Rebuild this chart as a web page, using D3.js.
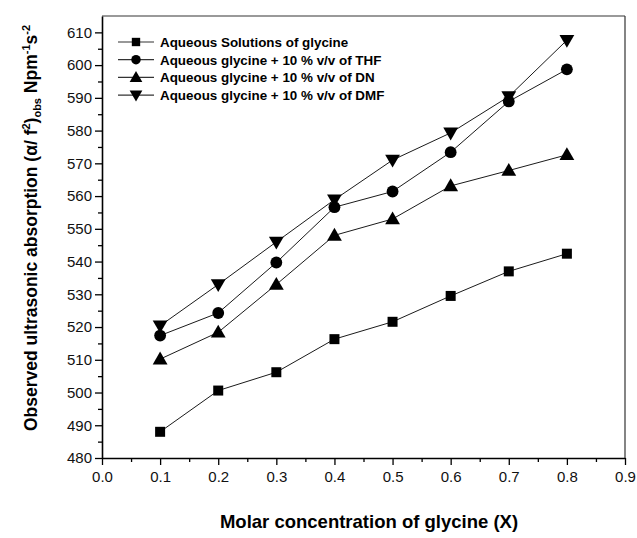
<!DOCTYPE html>
<html>
<head>
<meta charset="utf-8">
<script src="https://cdn.jsdelivr.net/npm/d3@7"></script>
<style>
  body { margin: 0; background: #fff; }
  svg text { font-family: "Liberation Sans", Arial, sans-serif; }
</style>
</head>
<body>
<div class="chart"></div>
<script>
// glycine concentration and measured absorption values
const conc = [0.1, 0.2, 0.3, 0.4, 0.5, 0.6, 0.7, 0.8];
const aqueous = [488.0, 500.6, 506.2, 516.3, 521.6, 529.5, 537.0, 542.4];
const thf = [517.4, 524.3, 539.7, 556.6, 561.4, 573.4, 588.9, 598.7];
const dn = [510.2, 518.4, 533.0, 548.0, 553.0, 563.1, 567.8, 572.6];
const dmf = [520.4, 533.0, 546.0, 558.9, 571.0, 579.3, 590.4, 607.6];
const seriesNames = [
    "Aqueous Solutions of glycine",
    "Aqueous glycine + 10 % v/v of THF",
    "Aqueous glycine + 10 % v/v of DN",
    "Aqueous glycine + 10 % v/v of DMF"
];
const xTicks = [0.0, 0.1, 0.2, 0.3, 0.4, 0.5, 0.6, 0.7, 0.8, 0.9];
const yTicks = [480, 490, 500, 510, 520, 530, 540, 550, 560, 570, 580, 590, 600, 610];

const width = 637, height = 538;
const margin = {top: 16, right: 12, bottom: 80, left: 102};
const pw = width - margin.left - margin.right;
const ph = height - margin.top - margin.bottom;

const x = d3.scaleLinear().domain([0, 0.9]).range([0, pw]);
const y = d3.scaleLinear().domain([480, 615]).range([ph, 0]);

const svg = d3.select(".chart").append("svg")
    .attr("width", width)
    .attr("height", height);

const g = svg.append("g")
    .attr("transform", `translate(${margin.left},${margin.top})`);

// frame: grey top/right
g.append("line").attr("x1", 0).attr("x2", pw).attr("y1", 0).attr("y2", 0)
    .attr("stroke", "#777").attr("stroke-width", 1.5);
g.append("line").attr("x1", pw).attr("x2", pw).attr("y1", 0).attr("y2", ph)
    .attr("stroke", "#333").attr("stroke-width", 1.2);

// minor ticks
const xMinor = d3.range(0.05, 0.9, 0.1);
const yMinor = d3.range(485, 615, 10);

const xAxis = g.append("g")
    .attr("transform", `translate(0,${ph})`)
    .call(d3.axisBottom(x).tickValues(xTicks).tickFormat(d3.format(".1f"))
          .tickSize(7).tickSizeOuter(0).tickPadding(6));
g.append("g")
    .attr("transform", `translate(0,${ph})`)
    .call(d3.axisBottom(x).tickValues(xMinor).tickFormat("").tickSize(4).tickSizeOuter(0))
    .select(".domain").remove();

const yAxis = g.append("g")
    .call(d3.axisLeft(y).tickValues(yTicks).tickSize(7).tickSizeOuter(0).tickPadding(3));
g.append("g")
    .call(d3.axisLeft(y).tickValues(yMinor).tickFormat("").tickSize(4).tickSizeOuter(0))
    .select(".domain").remove();

svg.selectAll(".domain").attr("stroke", "#000").attr("stroke-width", 1.6);
svg.selectAll(".tick line").attr("stroke", "#000").attr("stroke-width", 1.3);
xAxis.selectAll("text").attr("font-size", 15).attr("fill", "#111");
yAxis.selectAll("text").attr("font-size", 15).attr("fill", "#111");

// series
const allSeries = [aqueous, thf, dn, dmf];
const symbolTypes = [d3.symbolSquare, d3.symbolCircle, d3.symbolTriangle, d3.symbolTriangle];
const symbolSizes = [100, 110, 95, 95];

const line = d3.line()
    .x((d, i) => x(conc[i]))
    .y(d => y(d));

function markerTransform(s, cx, cy) {
    let t = `translate(${cx},${cy + (s === 2 ? 1 : s === 3 ? -1 : 0)})`;
    if (s === 3) t += " rotate(180)";
    return t;
}

allSeries.forEach(function (vals, s) {
    g.append("path")
        .datum(vals)
        .attr("d", line)
        .attr("fill", "none")
        .attr("stroke", "#000")
        .attr("stroke-width", 0.9);

    g.selectAll(".pt" + s)
        .data(vals)
        .enter().append("path")
        .attr("class", "pt" + s)
        .attr("d", d3.symbol().type(symbolTypes[s]).size(symbolSizes[s]))
        .attr("transform", (d, i) => markerTransform(s, x(conc[i]), y(d)))
        .attr("fill", "#000");
});

// legend
const legend = g.append("g").attr("transform", "translate(16,26)");
seriesNames.forEach(function (name, s) {
    const ly = s * 17.7;
    legend.append("line")
        .attr("x1", 0).attr("x2", 36).attr("y1", ly).attr("y2", ly)
        .attr("stroke", "#333").attr("stroke-width", 1.2);
    legend.append("path")
        .attr("d", d3.symbol().type(symbolTypes[s]).size(70))
        .attr("transform", markerTransform(s, 18, ly))
        .attr("fill", "#000");
    legend.append("text")
        .attr("x", 42).attr("y", ly + 4.8)
        .attr("font-size", 13.4)
        .attr("font-weight", "bold")
        .text(name);
});

// axis titles
svg.append("text")
    .attr("x", 369)
    .attr("y", 528)
    .attr("text-anchor", "middle")
    .attr("font-size", 18.5)
    .attr("font-weight", "bold")
    .text("Molar concentration of glycine (X)");

const yt = svg.append("text")
    .attr("transform", "translate(37,228) rotate(-90)")
    .attr("text-anchor", "middle")
    .attr("font-size", 17.5)
    .attr("font-weight", "bold");
yt.append("tspan").text("Observed ultrasonic absorption (\u03b1/ f");
yt.append("tspan").attr("font-size", 11).attr("dy", -7).text("2");
yt.append("tspan").attr("dy", 7).text(")");
yt.append("tspan").attr("font-size", 11).attr("dy", 4).text("obs");
yt.append("tspan").attr("dy", -4).text(" Npm");
yt.append("tspan").attr("font-size", 11).attr("dy", -7).text("-1");
yt.append("tspan").attr("dy", 7).text("s");
yt.append("tspan").attr("font-size", 11).attr("dy", -7).text("-2");
</script>
</body>
</html>
